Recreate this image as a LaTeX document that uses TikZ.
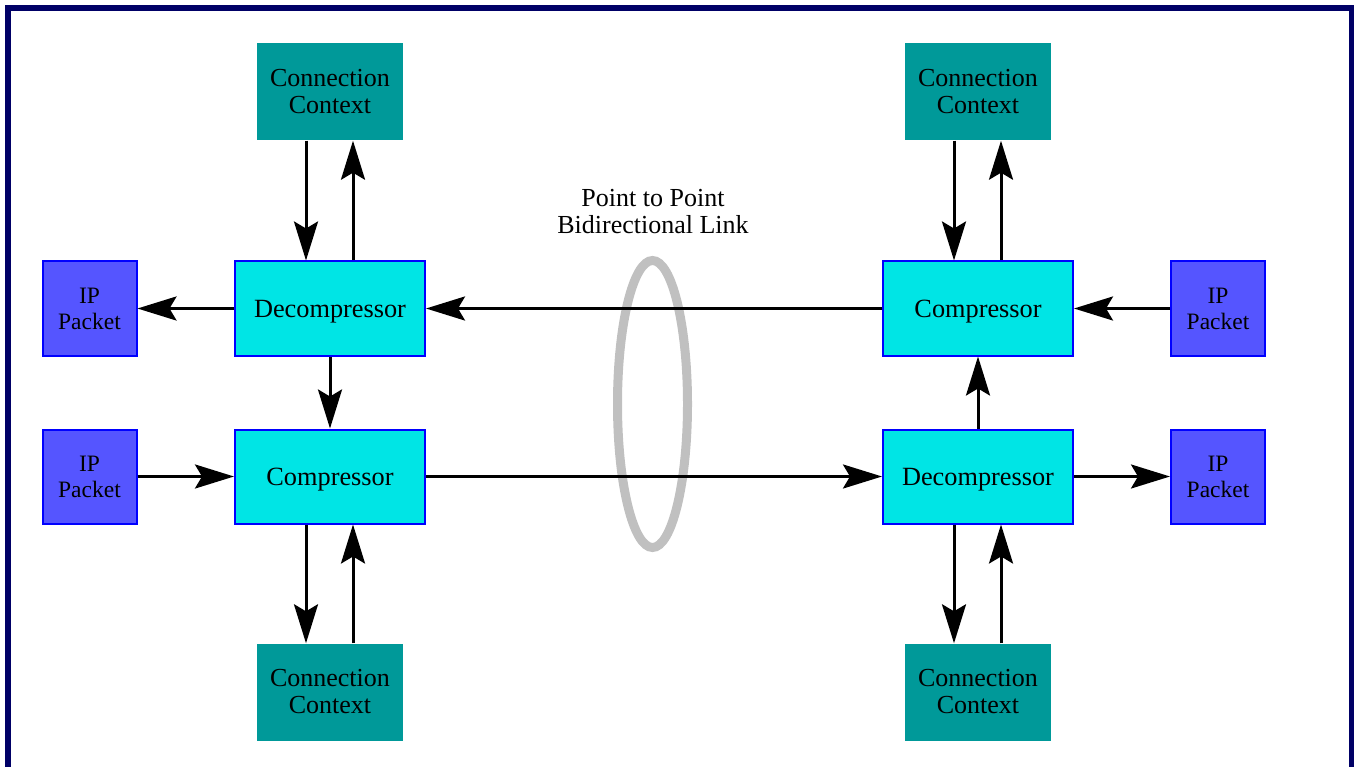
\documentclass[tikz,border=0pt]{standalone}
\usepackage{fontspec}
\setmainfont{Liberation Serif}
\usetikzlibrary{arrows.meta}
\definecolor{frameblue}{HTML}{000066}
\definecolor{ctxteal}{HTML}{009999}
\definecolor{boxcyan}{HTML}{00E5E5}
\definecolor{ipblue}{HTML}{5555FF}
\definecolor{ringgray}{HTML}{C0C0C0}
\tikzset{
  ctxbox/.style={rectangle, fill=ctxteal, minimum width=146, minimum height=97, inner sep=0pt, align=center, font=\fontsize{26}{27}\selectfont},
  procbox/.style={rectangle, fill=boxcyan, draw=blue, line width=2pt, minimum width=190, minimum height=94, inner sep=0pt, text height=18pt, text depth=0pt, font=\fontsize{26.3}{27}\selectfont},
  ipbox/.style={rectangle, fill=ipblue, draw=blue, line width=2pt, minimum width=94, minimum height=94, inner sep=0pt, align=center, font=\fontsize{23.5}{26}\selectfont},
  arr/.style={line width=3pt, -{Stealth[length=39pt, width=24pt, inset=7pt]}},
}
\begin{document}
\begin{tikzpicture}[x=1pt,y=-1pt]
\useasboundingbox (0,0) rectangle (1354,767);
\clip (0,0) rectangle (1354,767);
\draw[frameblue, line width=6pt] (8,8) rectangle (1352,800);

% ring
\draw[ringgray, line width=9pt] (652.5,404) ellipse [x radius=35, y radius=143.5];
\node[align=center, font=\fontsize{26}{27}\selectfont] (lbl) at (653,211.5) {Point to Point\\Bidirectional Link};

% left side
\node[ctxbox] (cctl) at (330,92) {Connection\\Context};
\node[procbox] (decl) at (330,308.5) {Decompressor};
\node[procbox] (coml) at (330,476.5) {Compressor};
\node[ctxbox] (ccbl) at (330,692) {Connection\\Context};
\node[ipbox] (ipl1) at (89.5,308.5) {IP\\Packet};
\node[ipbox] (ipl2) at (89.5,476.5) {IP\\Packet};

% right side
\node[ctxbox] (cctr) at (978,92) {Connection\\Context};
\node[procbox] (comr) at (978,308.5) {Compressor};
\node[procbox] (decr) at (978,476.5) {Decompressor};
\node[ctxbox] (ccbr) at (978,692) {Connection\\Context};
\node[ipbox] (ipr1) at (1218,308.5) {IP\\Packet};
\node[ipbox] (ipr2) at (1218,476.5) {IP\\Packet};

% left arrows
\draw[arr] ([xshift=-24pt]cctl.south) -- ([xshift=-24pt]decl.north);
\draw[arr] ([xshift=23pt]decl.north) -- ([xshift=23pt]cctl.south);
\draw[arr] (decl.west) -- (ipl1.east);
\draw[arr] (decl.south) -- (coml.north);
\draw[arr] (ipl2.east) -- (coml.west);
\draw[arr] ([xshift=-24pt]coml.south) -- ([xshift=-24pt]ccbl.north);
\draw[arr] ([xshift=23pt]ccbl.north) -- ([xshift=23pt]coml.south);

% link arrows
\draw[arr] (comr.west) -- (decl.east);
\draw[arr] (coml.east) -- (decr.west);

% right arrows
\draw[arr] ([xshift=-24pt]cctr.south) -- ([xshift=-24pt]comr.north);
\draw[arr] ([xshift=23pt]comr.north) -- ([xshift=23pt]cctr.south);
\draw[arr] (ipr1.west) -- (comr.east);
\draw[arr] (decr.north) -- (comr.south);
\draw[arr] (decr.east) -- (ipr2.west);
\draw[arr] ([xshift=-24pt]decr.south) -- ([xshift=-24pt]ccbr.north);
\draw[arr] ([xshift=23pt]ccbr.north) -- ([xshift=23pt]decr.south);
\end{tikzpicture}
\end{document}
